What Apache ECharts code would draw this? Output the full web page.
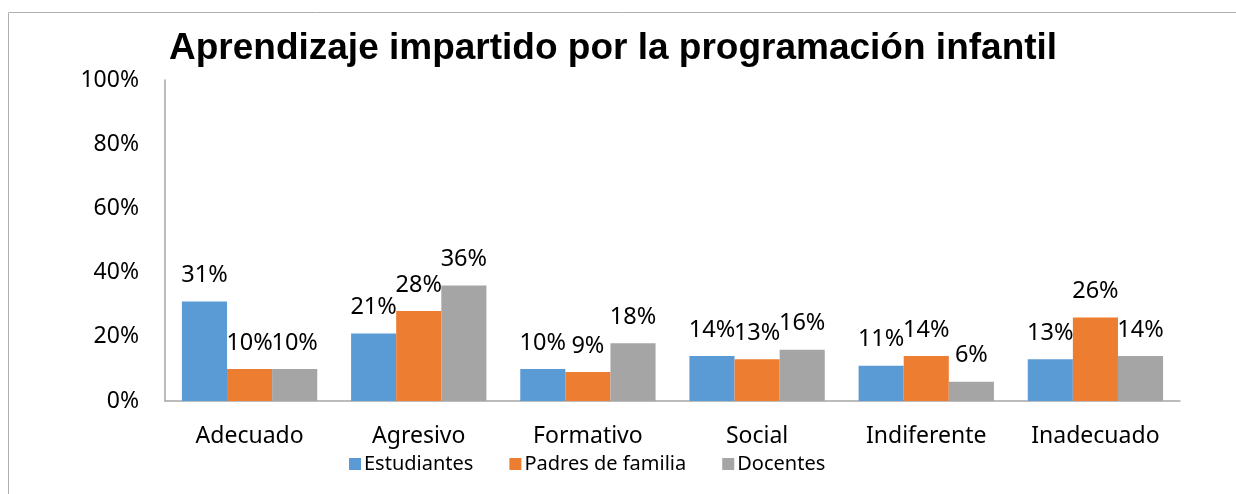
<!DOCTYPE html>
<html>
<head>
<meta charset="utf-8">
<script src="https://cdn.jsdelivr.net/npm/echarts@6/dist/echarts.min.js"></script>
<style>
html,body{margin:0;padding:0;background:#fff;}
#chart{width:1236px;height:494px;}
</style>
</head>
<body>
<div id="chart"></div>
<script>
const categories = ['Adecuado','Agresivo','Formativo','Social','Indiferente','Inadecuado'];
const estudiantes = [31, 21, 10, 14, 11, 13];
const padres = [10, 28, 9, 13, 14, 26];
const docentes = [10, 36, 18, 16, 6, 14];
const seriesNames = ['Estudiantes','Padres de familia','Docentes'];
const yTicks = [0, 20, 40, 60, 80, 100];

const font = 'Noto Sans';
const chart = echarts.init(document.getElementById('chart'));
const label = {
  show: true, position: 'top', distance: 14,
  formatter: p => p.value + '%',
  fontFamily: font, fontSize: 23.5, color: '#000'
};
function mk(name, data, color){
  return {name, type:'bar', data, barGap:'0%', barCategoryGap:'20%',
    itemStyle:{color}, label, animation:false};
}
chart.setOption({
  animation:false,
  graphic:[{type:'rect', shape:{x:8.5,y:12.5,width:1400,height:600},
    style:{fill:'none', stroke:'#b0b0b0', lineWidth:1}}],
  title:{text:'Aprendizaje impartido por la programación infantil',
    left:164, top:25,
    textStyle:{fontFamily:'Liberation Sans', fontWeight:'bold', fontSize:37, color:'#000'}},
  legend:{data:seriesNames, left:344, top:449, itemWidth:12, itemHeight:12, itemGap:36,
    icon:'rect',
    textStyle:{fontFamily:font, fontSize:20, color:'#000', padding:[0,0,0,-2]}},
  grid:{left:165, right:56, top:80, bottom:93},
  xAxis:{type:'category', data:categories,
    axisLine:{lineStyle:{color:'#a6a6a6', width:1.5}},
    axisTick:{show:false},
    axisLabel:{fontFamily:font, fontSize:23, color:'#000', margin:24}},
  yAxis:{type:'value', min:0, max:100, interval:20,
    axisLine:{show:true, lineStyle:{color:'#a6a6a6', width:1.5}},
    axisTick:{show:false},
    splitLine:{show:false},
    axisLabel:{fontFamily:font, fontSize:23, color:'#000', margin:26,
      formatter: v => yTicks.includes(v) ? v + '%' : ''}},
  series:[mk(seriesNames[0], estudiantes, '#5B9BD5'),
          mk(seriesNames[1], padres, '#ED7D31'),
          mk(seriesNames[2], docentes, '#A5A5A5')]
});
</script>
</body>
</html>
